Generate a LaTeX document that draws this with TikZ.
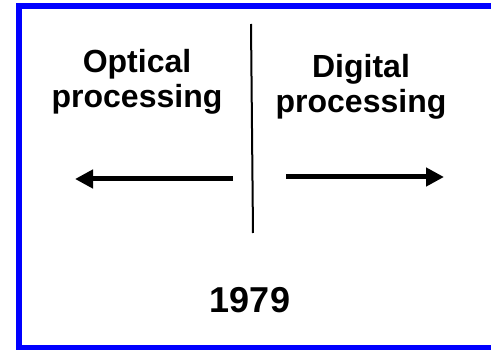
\documentclass[tikz,border=0pt]{standalone}
\usepackage{fontspec}
\setmainfont{Liberation Sans}
\usetikzlibrary{arrows.meta}

\tikzset{
  side/.style={font=\bfseries\fontsize{32}{35}\selectfont,align=center,inner sep=0pt},
  year/.style={font=\bfseries\fontsize{36}{40}\selectfont,inner sep=0pt},
  way/.style={line width=5pt,-{Triangle[length=18pt,width=18pt]}}
}

\begin{document}
\begin{tikzpicture}[x=1pt,y=-1pt]
        \clip (0,0) rectangle (491,350) ;
        % frame, open on the right
        \draw[blue,line width=6pt] (500,6) -- (19,6) -- (19,348) -- (500,348) ;
        % dividing line
        \coordinate (top) at (251,24) ;
        \coordinate (bottom) at (253,233) ;
        \draw[line width=2pt] (top) -- (bottom) ;
        \node[side] (optical) at (137,82) {Optical\\processing} ;
        \node[side] (digital) at (361,87) {Digital\\processing} ;
        % the two directions
        \coordinate (lstart) at (233,179) ;
        \coordinate (lend) at (75,179) ;
        \coordinate (rstart) at (286,177) ;
        \coordinate (rend) at (444,177) ;
        \draw[way] (lstart) -- (lend) ;
        \draw[way] (rstart) -- (rend) ;
        \node[year] (date) at (250,300) {1979} ;
      \end{tikzpicture}
\end{document}
